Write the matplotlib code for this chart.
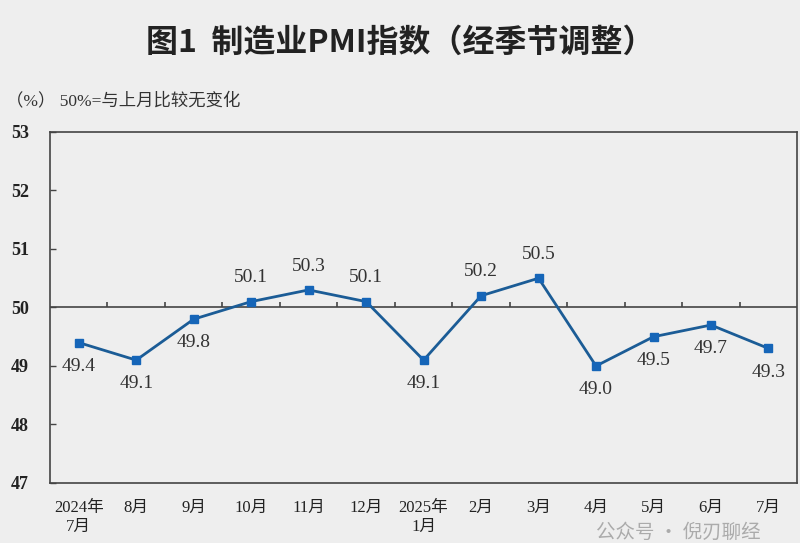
import matplotlib
matplotlib.use("Agg")
import matplotlib.pyplot as plt
import numpy as np

plt.rcParams['font.family'] = ['Liberation Serif', 'Noto Sans CJK SC', 'DejaVu Sans']

# data
months = ['2024年\n7月', '8月', '9月', '10月', '11月', '12月', '2025年\n1月',
          '2月', '3月', '4月', '5月', '6月', '7月']
pmi = [49.4, 49.1, 49.8, 50.1, 50.3, 50.1, 49.1, 50.2, 50.5, 49.0, 49.5, 49.7, 49.3]
label_above = [False, False, False, True, True, True, False, True, True, False, False, False, False]

bg = '#eeeeee'
line_col = '#1b5c96'
mark_col = '#1565b8'

fig = plt.figure(figsize=(8, 5.43), dpi=100, facecolor=bg)
ax = fig.add_axes([0.0625, 0.1105, 0.934, 0.6465])
ax.set_facecolor(bg)

x = np.arange(len(pmi))
ax.plot(x, pmi, color=line_col, lw=2, marker='s', ms=6,
        markerfacecolor=mark_col, markeredgecolor=mark_col, zorder=3)

for xi, v, up in zip(x, pmi, label_above):
    if up:
        ax.annotate('%.1f' % v, (xi, v), xytext=(0, 11), textcoords='offset points',
                    ha='center', va='bottom', fontsize=14, color='#333333')
    else:
        ax.annotate('%.1f' % v, (xi, v), xytext=(0, -11), textcoords='offset points',
                    ha='center', va='top', fontsize=14, color='#333333')

# 50 reference line with small upward ticks between months
ax.axhline(50, color='#444444', lw=1.2, zorder=2)
bounds = x[:-1] + 0.5
ax.vlines(bounds, 50, 50.09, color='#444444', lw=1.2, zorder=2)

ax.set_xlim(-0.5, len(pmi) - 0.5)
ax.set_ylim(47, 53)
ax.set_yticks(np.arange(47, 54, 1))
ax.set_yticklabels([str(t) for t in range(47, 54)], fontweight='bold', fontsize=13)
ax.tick_params(axis='y', direction='in', length=4, width=1, color='#444444',
               pad=28, labelcolor='#222222')
for lbl in ax.get_yticklabels():
    lbl.set_horizontalalignment('left')

ax.set_xticks(x)
ax.set_xticklabels(months, fontsize=12, va='top', linespacing=1.25)
ax.tick_params(axis='x', length=0, pad=12, labelcolor='#222222')

for s in ax.spines.values():
    s.set_color('#444444')
    s.set_linewidth(1.2)

fig.text(0.5, 0.922, '图1  制造业PMI指数（经季节调整）', ha='center', va='center',
         fontsize=23, fontweight='bold', color='#222222',
         family=['Noto Sans CJK SC', 'DejaVu Sans'])
fig.text(0.008, 0.815, '（%） 50%=与上月比较无变化', ha='left', va='center',
         fontsize=12.5, color='#333333')

# watermark
fig.text(0.745, 0.02, '公众号 · 倪刃聊经', ha='left', va='center',
         fontsize=14, color='#9a9a9a', alpha=0.8,
         family=['Noto Sans CJK SC', 'DejaVu Sans'])

fig.savefig('out.png', dpi=100, facecolor=bg)
